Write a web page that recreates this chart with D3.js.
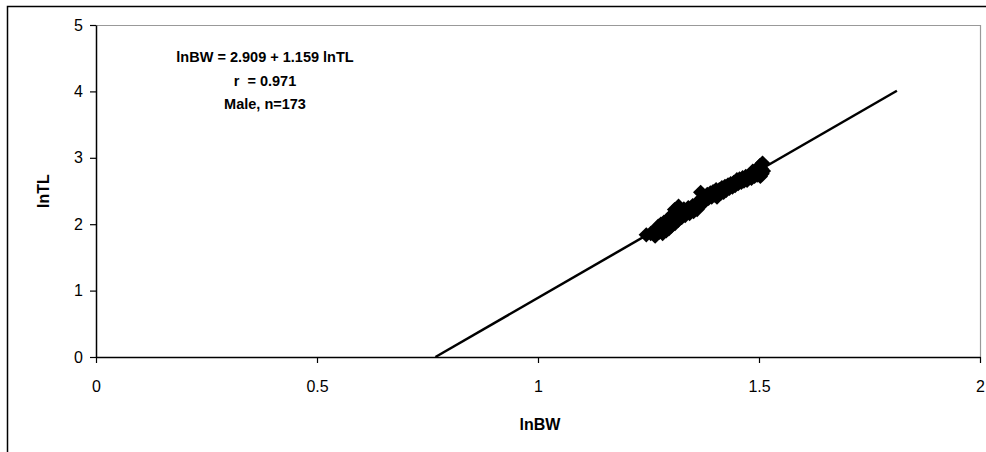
<!DOCTYPE html>
<html>
<head>
<meta charset="utf-8">
<script src="https://cdn.jsdelivr.net/npm/d3@7"></script>
<style>
  body { margin: 0; background: #fff; }
  text { font-family: "Liberation Sans", Arial, sans-serif; }
</style>
</head>
<body>
<svg id="chart" width="986" height="452"></svg>
<script>
// data: [lnBW, lnTL]
const points = [
  [1.245,1.84],[1.255,1.86],[1.262,1.88],[1.265,1.82],[1.268,1.85],[1.27,1.92],[1.272,1.97],
  [1.275,1.88],[1.278,2.00],[1.28,1.94],[1.282,1.86],[1.285,2.03],[1.287,1.96],[1.29,1.90],
  [1.292,2.06],[1.294,2.00],[1.296,1.93],[1.298,2.10],[1.30,2.03],[1.302,1.97],[1.305,2.15],
  [1.307,2.08],[1.309,2.22],[1.31,2.01],[1.312,2.12],[1.315,2.18],[1.318,2.27],[1.317,2.06],
  [1.32,2.14],[1.322,2.20],[1.325,2.10],[1.328,2.17],[1.33,2.23],[1.333,2.13],[1.336,2.20],
  [1.34,2.25],[1.343,2.16],[1.346,2.22],[1.35,2.28],[1.352,2.19],[1.355,2.25],[1.358,2.31],
  [1.36,2.22],[1.363,2.28],[1.366,2.35],[1.368,2.48],[1.37,2.30],[1.372,2.40],[1.375,2.33],
  [1.378,2.42],[1.38,2.37],[1.383,2.45],[1.386,2.39],[1.39,2.47],[1.393,2.41],[1.396,2.49],
  [1.40,2.44],[1.403,2.52],[1.405,2.41],[1.406,2.46],[1.41,2.52],[1.413,2.46],[1.416,2.55],
  [1.42,2.48],[1.423,2.57],[1.426,2.51],[1.43,2.59],[1.433,2.54],[1.436,2.61],[1.44,2.56],
  [1.443,2.63],[1.446,2.58],[1.45,2.67],[1.453,2.61],[1.456,2.68],[1.46,2.63],[1.463,2.70],
  [1.466,2.65],[1.47,2.72],[1.473,2.66],[1.476,2.70],[1.48,2.74],[1.483,2.69],[1.486,2.80],
  [1.49,2.72],[1.493,2.78],[1.496,2.74],[1.50,2.80],[1.502,2.88],[1.503,2.72],[1.505,2.84],
  [1.507,2.76],[1.51,2.80],[1.508,2.92]
];
// fitted line end points [lnBW, lnTL]
const fitLine = [[0.768, 0], [1.812, 4.01]];

const xTicks = [0, 0.5, 1, 1.5, 2];
const yTicks = [0, 1, 2, 3, 4, 5];
const notes = ["lnBW = 2.909 + 1.159 lnTL", "r  = 0.971", "Male, n=173"];

const svg = d3.select("#chart");

// outer frame (runs off right and bottom)
svg.append("rect")
  .attr("x", 7.5).attr("y", 6.5)
  .attr("width", 1000).attr("height", 470)
  .attr("fill", "none").attr("stroke", "#000").attr("stroke-width", 1.5);

const x = d3.scaleLinear().domain([0, 2]).range([96, 980]);
const y = d3.scaleLinear().domain([0, 5]).range([357, 25]);

// plot area top/right border
svg.append("path")
  .attr("d", `M${x(0)},${y(5) + 0.5}H${x(2) + 0.5}V${y(0)}`)
  .attr("fill", "none").attr("stroke", "#999").attr("stroke-width", 1.2);

const xAxis = svg.append("g")
  .attr("transform", `translate(0,${y(0)})`)
  .call(d3.axisBottom(x).tickValues(xTicks).tickFormat(d => String(d))
    .tickSize(6).tickSizeOuter(0).tickPadding(18));
const yAxis = svg.append("g")
  .attr("transform", `translate(${x(0)},0)`)
  .call(d3.axisLeft(y).tickValues(yTicks).tickFormat(d => String(d))
    .tickSize(6).tickSizeOuter(0).tickPadding(7));

[xAxis, yAxis].forEach(g => {
  g.select(".domain").attr("stroke", "#000").attr("stroke-width", 1.5);
  g.selectAll(".tick line").attr("stroke", "#000").attr("stroke-width", 1.2);
  g.selectAll(".tick text").attr("fill", "#000")
    .style("font-size", "16px").style("font-family", "'Liberation Sans', Arial, sans-serif");
});

// markers (square diamonds)
const diamond = d3.symbol().type(d3.symbolDiamond).size(68);
svg.append("g").selectAll("path")
  .data(points)
  .join("path")
  .attr("transform", d => `translate(${x(d[0])},${y(d[1])}) scale(1.732,1)`)
  .attr("d", diamond)
  .attr("fill", "#000");

// regression line
svg.append("path")
  .datum(fitLine)
  .attr("d", d3.line().x(d => x(d[0])).y(d => y(d[1])))
  .attr("fill", "none").attr("stroke", "#000").attr("stroke-width", 2.5);

// axis titles
svg.append("text")
  .attr("x", 540).attr("y", 430)
  .attr("text-anchor", "middle")
  .style("font-size", "16px").style("font-weight", "bold")
  .text("lnBW");
svg.append("text")
  .attr("transform", "translate(49,191) rotate(-90)")
  .attr("text-anchor", "middle")
  .style("font-size", "16px").style("font-weight", "bold")
  .text("lnTL");

// annotation
svg.append("g").selectAll("text")
  .data(notes)
  .join("text")
  .attr("x", 265)
  .attr("y", (d, i) => 62 + i * 23.5)
  .attr("text-anchor", "middle")
  .style("font-size", "14.5px").style("font-weight", "bold")
  .style("white-space", "pre")
  .text(d => d);
</script>
</body>
</html>
